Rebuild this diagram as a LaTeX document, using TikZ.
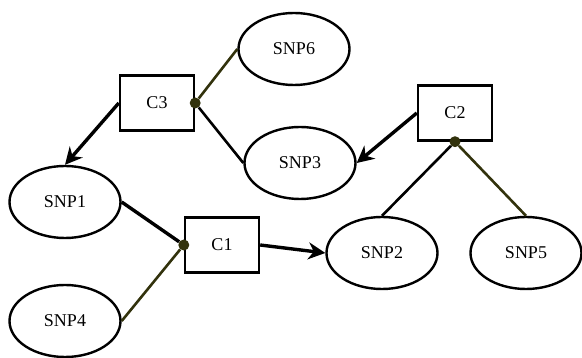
\documentclass[tikz,border=0pt]{standalone}
\usepackage{fontspec}
\setmainfont{Liberation Serif}
\usetikzlibrary{shapes.geometric,arrows.meta}
\definecolor{olv}{RGB}{50,50,12}

\begin{document}
\begin{tikzpicture}[x=1pt, y=-1pt, e/.style={ellipse, draw, line width=2.4pt, minimum width=111pt, minimum height=72pt, inner sep=0pt, font=\fontsize{18}{18}\selectfont}, r/.style={rectangle, draw, line width=2.4pt, minimum width=74pt, minimum height=55pt, font=\fontsize{18}{18}\selectfont}, d/.style={circle, fill=olv, inner sep=0pt, minimum size=11pt}, a/.style={line width=3.4pt, -{Stealth[length=17pt,width=17pt]}}, k/.style={line width=2.6pt}, o/.style={line width=2.6pt, draw=olv}]
		\useasboundingbox (0,0) rectangle (582,358);
		\node[e] (SNP6) at (294,49) {SNP6};
		\node[r] (C3) at (157,103) {C3};
		\node[d] (C3_dot) at (C3.east) {};
		\node[e] (SNP3) at (300,163) {SNP3};
		\node[r] (C2) at (455,113) {C2};
		\node[d] (C2_dot) at (C2.south) {};
		\node[e] (SNP1) at (65,202) {SNP1};
		\node[r] (C1) at (222,245) {C1};
		\node[d] (C1_dot) at (C1.west) {};
		\node[e] (SNP2) at (382,253) {SNP2};
		\node[e] (SNP5) at (526,253) {SNP5};
		\node[e] (SNP4) at (65,321) {SNP4};

		\draw[a] (C3.west) -- (SNP1.north);
		\draw[o] (C3_dot) -- (SNP6.west);
		\draw[k] (C3_dot) -- (SNP3.west);
		\draw[a] (C2.west) -- (SNP3.east);
		\draw[k] (C2_dot) -- (SNP2.north);
		\draw[o] (C2_dot) -- (SNP5.north);
		\draw[line width=3.4pt] (SNP1.east) -- (C1_dot);
		\draw[o] (SNP4.east) -- (C1_dot);
		\draw[a] (C1.east) -- (SNP2.west);
	\end{tikzpicture}
\end{document}
